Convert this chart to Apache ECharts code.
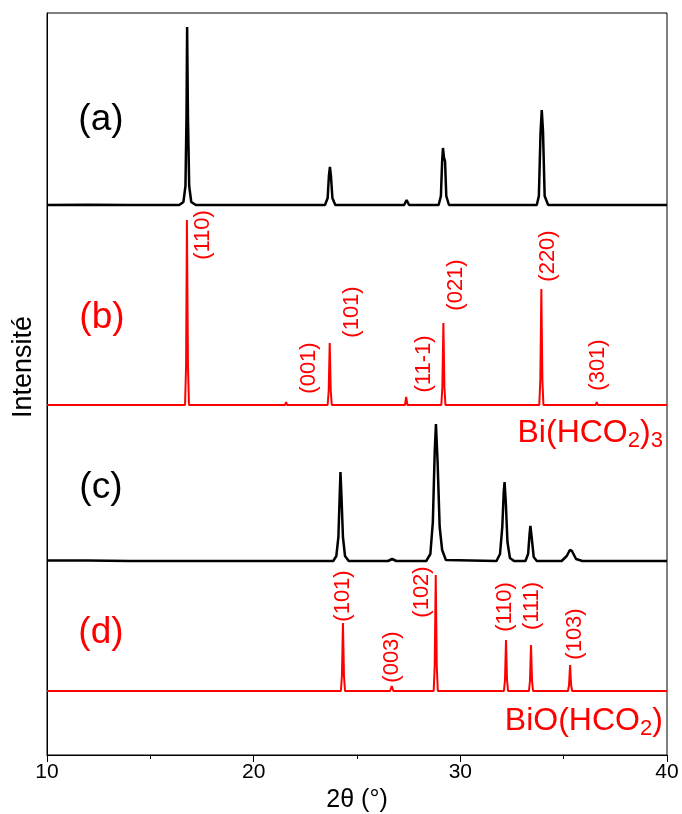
<!DOCTYPE html>
<html>
<head>
<meta charset="utf-8">
<script src="https://cdn.jsdelivr.net/npm/echarts@6/dist/echarts.min.js"></script>
<style>html,body{margin:0;padding:0;background:#fff}#c{width:682px;height:814px}</style>
</head>
<body>
<div id="c"></div>
<script>
// x axis (2θ, degrees)
const xTicks = [10, 20, 30, 40];
// Vertical offsets (baselines) of the four stacked patterns, in intensity units
const offsetA = 549, offsetB = 350, offsetC = 193, offsetD = 64;

// (a) measured pattern: [2θ, intensity above its baseline]
const patternA = [[10,1],[12,1.2],[14,1],[16.4,1],[16.6,4],[16.7,20],[16.75,90],[16.78,179],[16.82,90],[16.88,20],[16.98,4],[17.2,1],[19,1],[21.55,1],[21.62,2.5],[21.7,1],[23.45,1],[23.58,8],[23.64,30],[23.69,39],[23.74,30],[23.81,8],[23.95,1],[27.28,1],[27.4,6],[27.52,1],[28.95,1],[29.06,10],[29.12,45],[29.16,58],[29.21,48],[29.26,45],[29.32,10],[29.45,1],[33.7,1],[33.8,10],[33.88,73],[33.94,96],[34.0,75],[34.08,10],[34.25,1],[36.55,1],[36.63,3],[36.72,1],[38,1],[40,1]];
// (b) reference Bi(HCO2)3
const patternB = [[10,0],[16.68,0],[16.73,40],[16.77,185],[16.82,40],[16.87,0],[21.52,0],[21.57,3],[21.62,0],[23.58,0],[23.63,14],[23.68,62],[23.73,14],[23.78,0],[27.32,0],[27.38,8],[27.44,0],[29.08,0],[29.13,18],[29.18,82],[29.23,18],[29.28,0],[33.82,0],[33.87,25],[33.92,116],[33.97,25],[34.02,0],[36.55,0],[36.6,3],[36.65,0],[40,0]];
// (c) measured pattern
const patternC = [[10,1.5],[12,1.5],[14,1],[16,1],[20,1],[23.85,1],[24.0,6],[24.1,25],[24.16,65],[24.2,90],[24.25,65],[24.32,25],[24.42,6],[24.6,1],[26.5,1],[26.7,3],[26.9,1],[28.35,1],[28.55,8],[28.67,40],[28.76,110],[28.82,138],[28.9,100],[29.0,35],[29.12,12],[29.3,2],[31.75,1],[31.92,8],[32.03,35],[32.1,70],[32.14,80],[32.2,60],[32.28,20],[32.4,4],[32.6,1],[33.15,1],[33.28,8],[33.35,28],[33.39,36],[33.45,25],[33.55,5],[33.7,1],[34.9,1],[35.15,6],[35.3,12],[35.4,11],[35.6,3],[35.9,1],[40,1]];
// (d) reference BiO(HCO2)
const patternD = [[10,0],[24.22,0],[24.27,15],[24.32,68],[24.37,15],[24.42,0],[26.6,0],[26.68,5],[26.76,0],[28.71,0],[28.76,25],[28.81,116],[28.86,25],[28.91,0],[32.11,0],[32.16,11],[32.21,51],[32.26,11],[32.31,0],[33.32,0],[33.37,10],[33.42,46],[33.47,10],[33.52,0],[35.21,0],[35.26,6],[35.31,26],[35.36,6],[35.41,0],[40,0]];

// Miller-index annotations: [text, 2θ, height]
const hklB = [['(110)',17.55,520],['(001)',22.66,387],['(101)',24.76,443],['(11-1)',28.24,391],['(021)',29.81,470],['(220)',34.24,499],['(301)',36.66,390]];
const hklD = [['(101)',24.32,159],['(003)',26.69,98],['(102)',28.14,163],['(110)',32.16,148],['(111)',33.47,149],['(103)',35.55,121]];
// Panel letters: [text, 2θ, height, colour-key]
const panelLetters = [['(a)',12.61,635,'k'],['(b)',12.66,437,'r'],['(c)',12.61,267,'k'],['(d)',12.61,122,'r']];
// Phase names: [rich text, 2θ, height]
const phaseNames = [['Bi(HCO{s|2}){s|3}',39.8,322],['BiO(HCO{s|2})',39.8,34]];

const RED = '#ff0000', BLACK = '#000000';
const FONT = '"Liberation Sans", Arial, sans-serif';

function shift(p, off){ return p.map(d => [d[0], d[1] + off]); }

function lineSeries(data, color, w){
  return {type:'line', data:data, showSymbol:false, symbol:'none', silent:true, animation:false,
    lineStyle:{color:color, width:w}, z:3};
}
function textSeries(items, color, size, rotate, align){
  return {type:'scatter', symbolSize:0, silent:true, animation:false, z:5,
    itemStyle:{opacity:1, color:color},
    data: items.map(d => ({value:[d[1], d[2]], name:d[0]})),
    label:{show:true, position:'inside', formatter: p => p.name, color:color, opacity:1, fontSize:size,
      fontFamily:FONT, rotate:rotate, align:align||'center', verticalAlign:'middle',
      textBorderWidth:0,
      rich:{s:{fontSize:22, fontFamily:FONT, color:color, padding:[16,0,0,0]}}}};
}

const chart = echarts.init(document.getElementById('c'), null, {renderer:'canvas'});
chart.setOption({
  backgroundColor:'#fff',
  animation:false,
  grid:{left:47, right:15, top:13, bottom:59, containLabel:false, outerBoundsMode:'none',
    show:true, borderColor:BLACK, borderWidth:1},
  xAxis:{type:'value', min:xTicks[0], max:xTicks[xTicks.length-1], interval:10,
    name:'2θ (°)', nameLocation:'middle', nameGap:31,
    nameTextStyle:{color:BLACK, fontSize:25, fontFamily:FONT},
    axisLine:{show:true, onZero:false, lineStyle:{color:BLACK, width:1}},
    axisTick:{show:true, inside:false, length:7, lineStyle:{color:BLACK, width:1}},
    minorTick:{show:true, splitNumber:2, length:4, lineStyle:{color:BLACK, width:1}},
    axisLabel:{color:BLACK, fontSize:21, fontFamily:FONT, margin:7},
    splitLine:{show:false}},
  yAxis:{type:'value', min:0, max:742,
    name:'Intensité', nameLocation:'middle', nameGap:10,
    nameTextStyle:{color:BLACK, fontSize:27, fontFamily:FONT, padding:[0,0,0,34]},
    axisLine:{show:true, lineStyle:{color:BLACK, width:1}},
    axisTick:{show:false}, axisLabel:{show:false}, splitLine:{show:false}},
  series:[
    lineSeries(shift(patternA, offsetA), BLACK, 2.5),
    lineSeries(shift(patternB, offsetB), RED, 2),
    lineSeries(shift(patternC, offsetC), BLACK, 2.5),
    lineSeries(shift(patternD, offsetD), RED, 2),
    textSeries(hklB, RED, 22, 90),
    textSeries(hklD, RED, 22, 90),
    textSeries(panelLetters.filter(d=>d[3]==='k'), BLACK, 37, 0),
    textSeries(panelLetters.filter(d=>d[3]==='r'), RED, 37, 0),
    textSeries(phaseNames, RED, 32, 0, 'right')
  ]
});
</script>
</body>
</html>
